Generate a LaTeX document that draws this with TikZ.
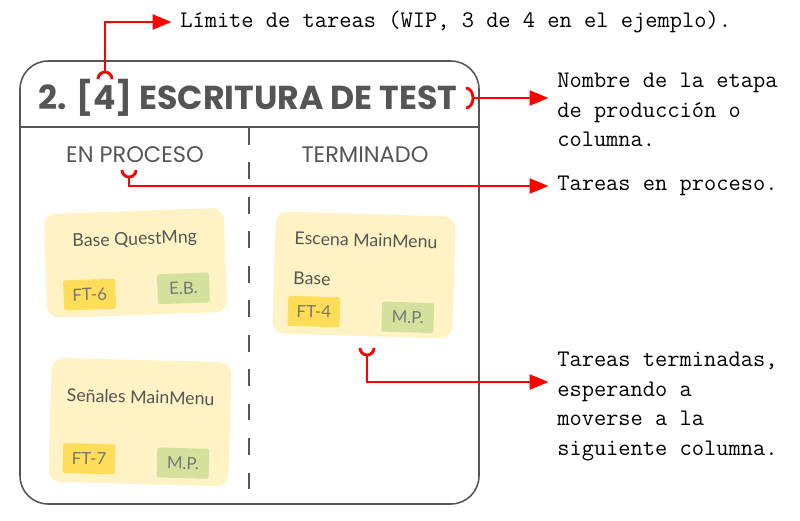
\documentclass[tikz,border=0pt]{standalone}
\usepackage{fontspec}
\usetikzlibrary{arrows.meta}
\usetikzlibrary{positioning}
\newfontfamily\boardfont{Poppins}
\newfontfamily\cardfont{Lato}
\definecolor{boardgray}{HTML}{555555}
\definecolor{cardyellow}{HTML}{FFF3C6}
\definecolor{tagyellow}{HTML}{FFDD58}
\definecolor{taggreen}{HTML}{D4E19C}
\definecolor{notered}{HTML}{FF0000}

\begin{document}
\begin{tikzpicture}[x=0.025cm,y=-0.025cm,
  note/.style={font=\fontsize{16.9}{21}\selectfont\ttfamily,inner sep=0pt,align=left},
  callout/.style={notered,line width=2.1pt,shorten >=6pt,-{Triangle[length=13.5pt,width=10.5pt]}},
  bracket/.style={notered,line width=2pt},
  head/.style={font=\boardfont\fontsize{16}{16}\selectfont,text=boardgray,inner sep=0pt},
  card/.style={fill=cardyellow,rounded corners=8.5pt,minimum width=4.5cm,inner sep=0pt},
  cardtext/.style={font=\cardfont\fontsize{12.6}{28.5}\selectfont,text=boardgray,inner sep=0pt},
  tag/.style={minimum width=1.3cm,minimum height=0.75cm,inner sep=0pt,rounded corners=1.5pt,
    font=\cardfont\fontsize{12}{12}\selectfont,text=boardgray!80},
  fttag/.style={tag,fill=tagyellow},
  whotag/.style={tag,fill=taggreen}]
  \useasboundingbox (0,0) rectangle (800,520);
  \draw[boardgray,line width=1.1pt,rounded corners=20pt] (20,61) rectangle (479,504);
  \draw[boardgray,line width=1.1pt] (20,127) -- (479,127);
  \draw[boardgray,line width=1.1pt,dash pattern=on 12pt off 12.5pt] (249,128) -- (249,496);
  \node[font=\boardfont\bfseries\fontsize{23.6}{23.6}\selectfont,text=boardgray,inner sep=0pt] (title) at (248,98) {2. [4] ESCRITURA DE TEST};
  \node[head] (prochead) at (135,155) {EN PROCESO};
  \node[head] (donehead) at (365,155) {TERMINADO};
  \begin{scope}[shift={(135.5,263)},rotate=2,transform shape]
    \node[card,minimum height=2.6cm] (questcard) at (0,0) {};
    \node[cardtext] (questtitle) at (0,-23) {Base QuestMng};
    \node[fttag] (questft) at (-47,30) {FT-6};
    \node[whotag] (questwho) at (47,27) {E.B.};
  \end{scope}
  \begin{scope}[shift={(140,422)},rotate=-1.5,transform shape]
    \node[card,minimum height=3.1cm] (signalcard) at (0,0) {};
    \node[cardtext] (signaltitle) at (0,-25) {Señales MainMenu};
    \node[fttag] (signalft) at (-50,38) {FT-7};
    \node[whotag] (signalwho) at (44,40) {M.P.};
  \end{scope}
  \begin{scope}[shift={(364,275)},rotate=-1.7,transform shape]
    \node[card,minimum height=3.05cm] (menucard) at (0,0) {};
    \node[cardtext,align=left] (menutitle) at (1,-15) {Escena MainMenu\\Base};
    \node[fttag] (menuft) at (-49,38) {FT-4};
    \node[whotag] (menuwho) at (45,41) {M.P.};
  \end{scope}
  \node[note,anchor=west] (wipnote) at (180,22) {Límite de tareas (WIP, 3 de 4 en el ejemplo).};
  \node[note,anchor=north west] (stagenote) at (557,73) {Nombre de la etapa\\de producción o\\columna.};
  \node[note,anchor=west] (procnote) at (557,186) {Tareas en proceso.};
  \node[note,anchor=north west] (donenote) at (557,352) {Tareas terminadas,\\esperando a\\moverse a la\\siguiente columna.};
  \coordinate (wip) at (105,72);
  \coordinate (stage) at (473,98);
  \coordinate (proc) at (129,177);
  \coordinate (done) at (367,355);
  \coordinate (doneend) at (557,382);
  \draw[bracket] (wip) ++(-7,7) arc[start angle=180,end angle=360,radius=7];
  \draw[bracket] (stage) ++(-7,-10) arc[start angle=-90,end angle=90,x radius=7,y radius=10];
  \draw[bracket] (proc) ++(-7,-7) arc[start angle=180,end angle=0,radius=7];
  \draw[bracket] (done) ++(-7,-7) arc[start angle=180,end angle=0,radius=7];
  \draw[callout] (wip) |- (wipnote.west);
  \draw[callout] (stage) -- (stage -| stagenote.west);
  \draw[callout] (proc) |- (procnote.west);
  \draw[callout] (done) |- (doneend);
\end{tikzpicture}
\end{document}
